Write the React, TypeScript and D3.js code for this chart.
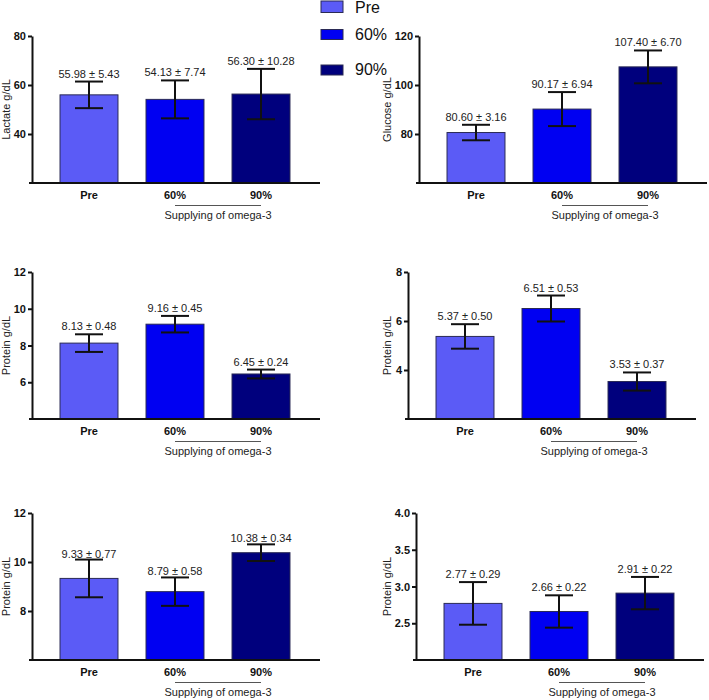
import React, { useRef, useEffect } from 'react';
import * as d3 from 'd3';

// groups on the x axis and the legend
const groups = ['Pre', '60%', '90%'];
const groupColors = ['#5b5bf6', '#0000f2', '#00007d'];

// mean and SD for each panel
const lactateMean = [55.98, 54.13, 56.3];
const lactateSd = [5.43, 7.74, 10.28];
const lactateTicks = [40, 60, 80];

const glucoseMean = [80.6, 90.17, 107.4];
const glucoseSd = [3.16, 6.94, 6.7];
const glucoseTicks = [80, 100, 120];

const proteinAMean = [8.13, 9.16, 6.45];
const proteinASd = [0.48, 0.45, 0.24];
const proteinATicks = [6, 8, 10, 12];

const proteinBMean = [5.37, 6.51, 3.53];
const proteinBSd = [0.5, 0.53, 0.37];
const proteinBTicks = [4, 6, 8];

const proteinCMean = [9.33, 8.79, 10.38];
const proteinCSd = [0.77, 0.58, 0.34];
const proteinCTicks = [8, 10, 12];

const proteinDMean = [2.77, 2.66, 2.91];
const proteinDSd = [0.29, 0.22, 0.22];
const proteinDTicks = [2.5, 3.0, 3.5, 4.0];

const xTitle = 'Supplying of omega-3';

const FONT = '"Liberation Sans", Arial, sans-serif';

const App = () => {
  const svgRef = useRef<SVGSVGElement>(null);

  useEffect(() => {
    const svg = d3.select(svgRef.current);
    svg.selectAll('*').remove();

    // layout of the six panels
    const panels = [
      { title: 'Lactate g/dL', mean: lactateMean, sd: lactateSd, ticks: lactateTicks, domain: [20, 80], fmt: 'd', left: 0, axisX: 32, top: 36, gap: 4 },
      { title: 'Glucose g/dL', mean: glucoseMean, sd: glucoseSd, ticks: glucoseTicks, domain: [60, 120], fmt: 'd', left: 381, axisX: 419, top: 36, gap: 4 },
      { title: 'Protein g/dL', mean: proteinAMean, sd: proteinASd, ticks: proteinATicks, domain: [4, 12], fmt: 'd', left: 0, axisX: 32, top: 272, gap: 4 },
      { title: 'Protein g/dL', mean: proteinBMean, sd: proteinBSd, ticks: proteinBTicks, domain: [2, 8], fmt: 'd', left: 381, axisX: 408, top: 272, gap: 4 },
      { title: 'Protein g/dL', mean: proteinCMean, sd: proteinCSd, ticks: proteinCTicks, domain: [6, 12], fmt: 'd', left: 0, axisX: 32, top: 513, gap: 2 },
      { title: 'Protein g/dL', mean: proteinDMean, sd: proteinDSd, ticks: proteinDTicks, domain: [2, 4], fmt: '.1f', left: 381, axisX: 416, top: 513, gap: 4 },
    ];

    const plotH = 147;

    panels.forEach(p => {
      const g = svg.append('g').attr('font-family', FONT);
      const base = p.top + plotH;

      const y = d3.scaleLinear().domain(p.domain).range([base, p.top]);
      const x = d3.scaleBand()
        .domain(groups)
        .range([p.axisX + 14, p.axisX + 272])
        .paddingInner(0.326)
        .paddingOuter(0.163);
      const bw = x.bandwidth();

      // bars
      g.selectAll('rect.bar')
        .data(groups)
        .enter()
        .append('rect')
        .attr('x', d => x(d)!)
        .attr('y', (d, i) => y(p.mean[i]))
        .attr('width', bw)
        .attr('height', (d, i) => base - y(p.mean[i]))
        .attr('fill', (d, i) => groupColors[i])
        .attr('stroke', '#2a2a55')
        .attr('stroke-width', 1);

      // error bars
      groups.forEach((grp, i) => {
        const cx = x(grp)! + bw / 2;
        const hi = y(p.mean[i] + p.sd[i]);
        const lo = y(p.mean[i] - p.sd[i]);
        g.append('line').attr('x1', cx).attr('x2', cx).attr('y1', hi).attr('y2', lo)
          .attr('stroke', '#111').attr('stroke-width', 2);
        [hi, lo].forEach(yy => {
          g.append('line').attr('x1', cx - 14).attr('x2', cx + 14).attr('y1', yy).attr('y2', yy)
            .attr('stroke', '#111').attr('stroke-width', 2);
        });
        g.append('text')
          .attr('x', cx)
          .attr('y', hi - p.gap)
          .attr('text-anchor', 'middle')
          .attr('font-size', 11)
          .attr('fill', '#222')
          .text(`${p.mean[i].toFixed(2)} ± ${p.sd[i].toFixed(2)}`);
      });

      // y axis
      const yAxis = g.append('g')
        .attr('transform', `translate(${p.axisX},0)`)
        .call(d3.axisLeft(y).tickValues(p.ticks).tickSize(4).tickSizeOuter(0).tickPadding(2).tickFormat(d3.format(p.fmt)));
      yAxis.select('.domain').attr('stroke', '#111').attr('stroke-width', 2);
      yAxis.selectAll('.tick line').attr('stroke', '#111').attr('stroke-width', 2);
      yAxis.selectAll('.tick text')
        .attr('font-family', FONT)
        .attr('font-size', 11)
        .attr('font-weight', 'bold')
        .attr('fill', '#111');

      // x axis line
      g.append('line')
        .attr('x1', p.axisX - 3).attr('x2', p.axisX + 288)
        .attr('y1', base).attr('y2', base)
        .attr('stroke', '#111').attr('stroke-width', 2);

      // category labels
      g.selectAll('text.cat')
        .data(groups)
        .enter()
        .append('text')
        .attr('x', d => x(d)! + bw / 2)
        .attr('y', base + 15.5)
        .attr('text-anchor', 'middle')
        .attr('font-size', 11)
        .attr('font-weight', 'bold')
        .attr('fill', '#111')
        .text(d => d);

      // bracket under 60% and 90%
      const x1 = x('60%')! + bw / 2;
      const x2 = x('90%')! + bw / 2;
      g.append('line')
        .attr('x1', x1).attr('x2', x2)
        .attr('y1', base + 22.5).attr('y2', base + 22.5)
        .attr('stroke', '#555').attr('stroke-width', 1);
      g.append('text')
        .attr('x', (x1 + x2) / 2)
        .attr('y', base + 36)
        .attr('text-anchor', 'middle')
        .attr('font-size', 11)
        .attr('fill', '#222')
        .text(xTitle);

      // y title
      g.append('text')
        .attr('transform', `translate(${p.left + 10},${p.top + plotH / 2}) rotate(-90)`)
        .attr('text-anchor', 'middle')
        .attr('font-size', 11)
        .attr('fill', '#222')
        .text(p.title);
    });

    // legend
    const legendY = [12.5, 39.5, 75];
    const legend = svg.append('g').attr('font-family', FONT);
    groups.forEach((grp, i) => {
      legend.append('rect')
        .attr('x', 321)
        .attr('y', legendY[i] - (i === 0 ? 11.5 : 10))
        .attr('width', 22)
        .attr('height', i === 0 ? 11.5 : 10)
        .attr('fill', groupColors[i])
        .attr('stroke', '#2a2a55')
        .attr('stroke-width', 1);
      legend.append('text')
        .attr('x', 355)
        .attr('y', legendY[i])
        .attr('font-size', 16)
        .attr('fill', '#111')
        .text(grp);
    });
  }, []);

  return (
    <svg
      ref={svgRef}
      width={709}
      height={700}
      style={{ position: 'absolute', left: 0, top: 0, background: '#fff' }}
    />
  );
};

export default App;
